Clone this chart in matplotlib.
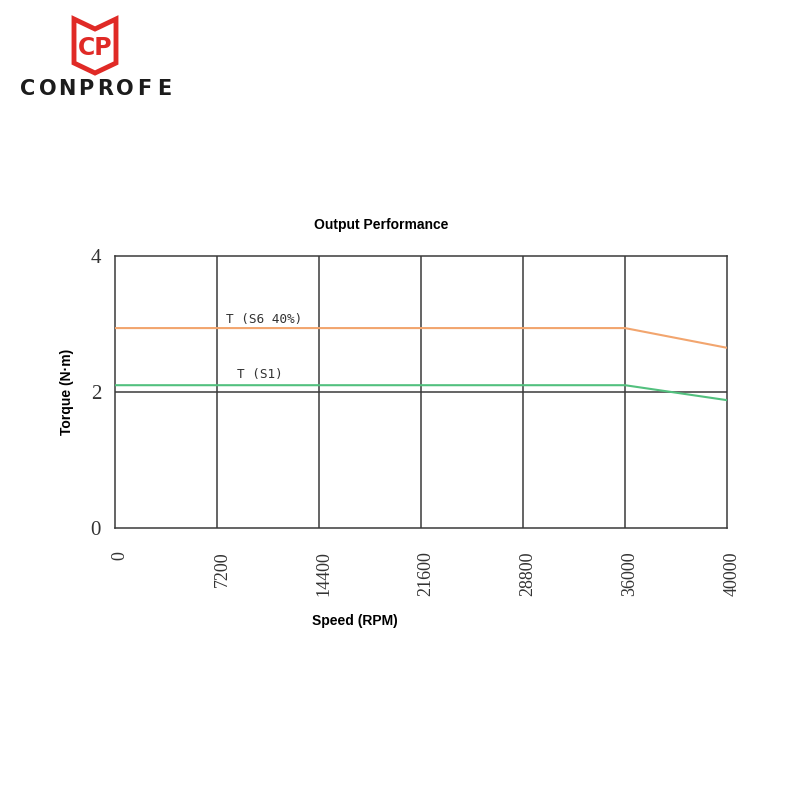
import numpy as np
import matplotlib.pyplot as plt
import matplotlib.transforms as mtrans
from matplotlib.patches import Polygon

# eixo x com espacamento uniforme entre os ticks
tick_speeds = [0, 7200, 14400, 21600, 28800, 36000, 40000]
speeds = [0, 36000, 40000]
torque_s6 = [2.94, 2.94, 2.65]
torque_s1 = [2.10, 2.10, 1.88]
y_ticks = [0, 2, 4]

ORANGE = '#f2a56e'
GREEN = '#52c07e'
GRID = '#3a3a3a'

fig = plt.figure(figsize=(8, 8), dpi=100)
ax = fig.add_axes([115/800, 1 - 528/800, 612/800, 272/800])

pos = np.arange(len(tick_speeds))


def to_pos(v):
    return np.interp(v, tick_speeds, pos)


ax.plot(to_pos(speeds), torque_s6, color=ORANGE, lw=1.5, zorder=3)
ax.plot(to_pos(speeds), torque_s1, color=GREEN, lw=1.5, zorder=3)

ax.set_xlim(0, len(tick_speeds) - 1)
ax.set_ylim(0, 4)
ax.set_xticks(pos)
ax.set_xticklabels([str(s) for s in tick_speeds], rotation=90,
                   fontfamily='Liberation Serif', fontsize=13, color='#333333')
ax.set_yticks(y_ticks)
ax.set_yticklabels([str(t) for t in y_ticks],
                   fontfamily='Liberation Serif', fontsize=15, color='#333333')
ax.tick_params(length=0, pad=17)
ax.tick_params(axis='y', pad=10)
shift = mtrans.ScaledTranslation(5/100, 0, fig.dpi_scale_trans)
for lbl in ax.get_xticklabels():
    lbl.set_transform(lbl.get_transform() + shift)
for p in pos[1:-1]:
    ax.axvline(p, color=GRID, lw=1.1, zorder=1)
ax.axhline(2, color=GRID, lw=1.1, zorder=1)
for s in ax.spines.values():
    s.set_color(GRID)
    s.set_linewidth(1.1)

ax.text(1.46, 3.07, 'T (S6 40%)', ha='center', va='center',
        fontfamily='DejaVu Sans Mono', fontsize=9.2, color='#333333')
ax.text(1.42, 2.26, 'T (S1)', ha='center', va='center',
        fontfamily='DejaVu Sans Mono', fontsize=9.2, color='#333333')

fig.text(381/800, 1 - 225/800, 'Output Performance', ha='center', va='center',
         fontfamily='Liberation Sans', fontweight='bold', fontsize=10)
fig.text(355/800, 1 - 621/800, 'Speed (RPM)', ha='center', va='center',
         fontfamily='Liberation Sans', fontweight='bold', fontsize=10)
fig.text(67/800, 1 - 392/800, 'Torque (N·m)', ha='center', va='center', rotation=90,
         fontfamily='Liberation Sans', fontweight='bold', fontsize=10)

# logo
lg = fig.add_axes([0, 0, 1, 1], zorder=5)
lg.set_xlim(0, 800)
lg.set_ylim(800, 0)
lg.axis('off')
lg.patch.set_alpha(0)
shield = [(74, 19), (95, 29), (116, 19), (116, 63), (95, 73), (74, 63)]
lg.add_patch(Polygon(shield, closed=True, fill=False, edgecolor='#e02a26', lw=3.5))
lg.text(95, 48, 'CP', ha='center', va='center', color='#e02a26',
        fontfamily='DejaVu Sans', fontweight='bold', fontsize=17)
logo_word = 'CONPROFE'
for i, ch in enumerate(logo_word):
    lg.text(28 + i * 19.4, 89, ch, ha='center', va='center', color='#1c1c1c',
            fontfamily='DejaVu Sans', fontweight='bold', fontsize=15)

fig.savefig('out.png', dpi=100)
